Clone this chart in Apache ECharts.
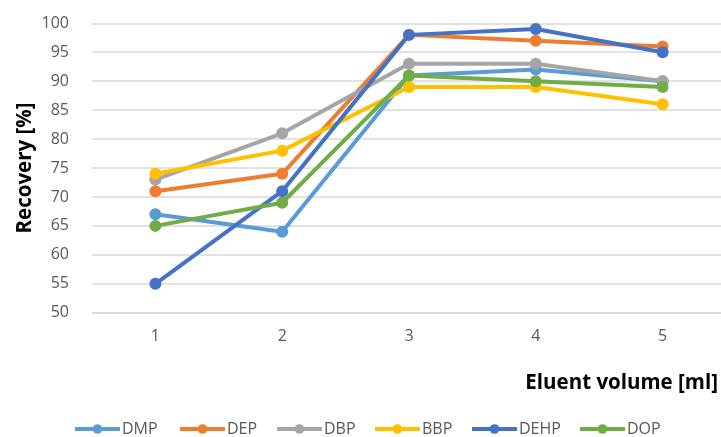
<!DOCTYPE html>
<html>
<head>
<meta charset="utf-8">
<script src="https://cdn.jsdelivr.net/npm/echarts@6/dist/echarts.min.js"></script>
<style>
html,body{margin:0;padding:0;background:#fff;}
#c{width:721px;height:437px;}
</style>
</head>
<body>
<div id="c"></div>
<script>
const categories = ['1', '2', '3', '4', '5'];
const seriesNames = ['DMP', 'DEP', 'DBP', 'BBP', 'DEHP', 'DOP'];
const DMP  = [67, 64, 91, 92, 90];
const DEP  = [71, 74, 98, 97, 96];
const DBP  = [73, 81, 93, 93, 90];
const BBP  = [74, 78, 89, 89, 86];
const DEHP = [55, 71, 98, 99, 95];
const DOP  = [65, 69, 91, 90, 89];
const seriesData = [DMP, DEP, DBP, BBP, DEHP, DOP];
const colors = ['#5B9BD5', '#ED7D31', '#A5A5A5', '#FFC000', '#4472C4', '#70AD47'];
const legendLeft = [73, 178, 275, 373, 470, 578];

const font = "'Open Sans', 'Noto Sans', sans-serif";
const chart = echarts.init(document.getElementById('c'), null, {renderer: 'canvas'});
chart.setOption({
  animation: false,
  color: colors,
  grid: {left: 92, top: 23.3, width: 634, height: 289.4, containLabel: false, outerBoundsMode: 'none'},
  xAxis: {
    type: 'category',
    data: categories,
    boundaryGap: true,
    axisLine: {show: true, lineStyle: {color: '#d9d9d9', width: 1.5}},
    axisTick: {show: false},
    axisLabel: {color: '#595959', fontSize: 16, fontFamily: font, margin: 16}
  },
  yAxis: {
    type: 'value',
    min: 50, max: 100, interval: 5,
    axisLine: {show: false},
    axisTick: {show: false},
    splitLine: {lineStyle: {color: '#d9d9d9', width: 1.5}},
    axisLabel: {
      color: '#595959', fontSize: 16, fontFamily: font, margin: 8,
      formatter: function (v) { return '{n|' + v + '}{s|}'; },
      rich: {
        n: {color: '#595959', fontSize: 16, fontFamily: font},
        s: {width: 15, fontSize: 16}
      }
    }
  },
  graphic: [
    {type: 'text', x: 25, y: 168, rotation: Math.PI / 2,
     style: {text: 'Recovery [%]', fontSize: 20.5, fontWeight: 'bold', fill: '#000', fontFamily: font,
             textAlign: 'center', textVerticalAlign: 'middle'}},
    {type: 'text', x: 718, y: 383,
     style: {text: 'Eluent volume [ml]', fontSize: 20.5, fontWeight: 'bold', fill: '#000', fontFamily: font,
             textAlign: 'right', textVerticalAlign: 'middle'}}
  ],
  legend: seriesNames.map((n, i) => ({
    data: [n],
    left: legendLeft[i],
    top: 421,
    padding: 0,
    itemWidth: 45,
    itemHeight: 12,
    lineStyle: {width: 4},
    textStyle: {color: '#595959', fontSize: 16, fontFamily: font, padding: [0, 0, 0, -3]}
  })),
  series: seriesNames.map((n, i) => ({
    name: n,
    type: 'line',
    data: seriesData[i],
    symbol: 'circle',
    symbolSize: 12,
    lineStyle: {width: 4},
    itemStyle: {color: colors[i]}
  }))
});
</script>
</body>
</html>
